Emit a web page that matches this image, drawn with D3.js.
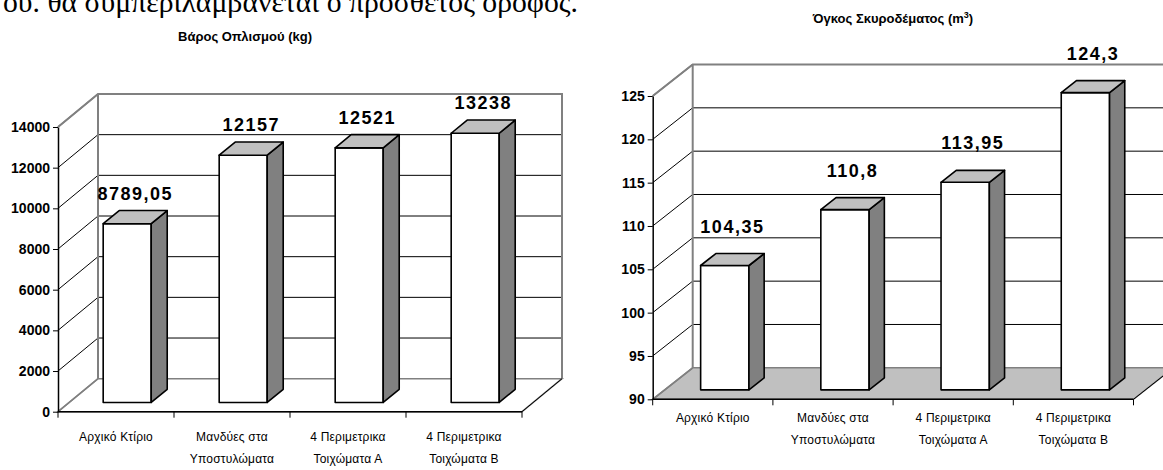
<!DOCTYPE html>
<html>
<head>
<meta charset="utf-8">
<script src="https://cdn.jsdelivr.net/npm/d3@7"></script>
<style>
  html, body { margin: 0; padding: 0; background: #fff; }
  svg { display: block; }
</style>
</head>
<body>
<svg id="page" width="1163" height="470"></svg>
<script>
// Category names (two-line labels under each bar)
const categories = [
  ["Αρχικό Κτίριο"],
  ["Μανδύες στα", "Υποστυλώματα"],
  ["4 Περιμετρικα", "Τοιχώματα Α"],
  ["4 Περιμετρικα", "Τοιχώματα Β"]
];

// Reinforcement weight (kg)
const weightValues = [8789.05, 12157, 12521, 13238];
const weightTicks = [0, 2000, 4000, 6000, 8000, 10000, 12000, 14000];

// Concrete volume (m3)
const concreteValues = [104.35, 110.8, 113.95, 124.3];
const concreteTicks = [90, 95, 100, 105, 110, 115, 120, 125];

// Decimal comma, as written in the report
const fmtValue = v => String(v).replace(".", ",");

const svg = d3.select("#page");

// Running text from the page above the figures
svg.append("text")
  .attr("x", 3).attr("y", 12)
  .attr("textLength", 575).attr("lengthAdjust", "spacingAndGlyphs")
  .style("font-family", "'Liberation Serif', 'Times New Roman', serif")
  .style("font-size", "30px")
  .text("ού. θα συμπεριλαμβάνεται ο πρόσθετος όροφος.");

function drawChart(opt) {
  const g = svg.append("g");
  const DX = opt.depth[0], DY = opt.depth[1];

  const x = d3.scaleBand()
    .domain(d3.range(opt.values.length))
    .range([opt.x0, opt.x1])
    .paddingInner(opt.pad).paddingOuter(opt.pad / 2);
  const step = x.step();

  const y = d3.scaleLinear().domain(d3.extent(opt.ticks)).range([opt.yBottom, opt.yTop]);
  const [vMin, vMax] = y.domain();

  // project a point on the front plane back by a depth fraction
  const P = (px, v, f) => [px + f * DX, y(v) - f * DY];
  const poly = pts => "M" + pts.map(p => p.join(",")).join("L") + "Z";

  // floor
  g.append("path")
    .attr("d", poly([P(opt.x0, vMin, 0), P(opt.x1, vMin, 0), P(opt.x1, vMin, 1), P(opt.x0, vMin, 1)]))
    .attr("fill", opt.floorFill).attr("stroke", "#808080").attr("stroke-width", 1.5);

  // back-wall gridlines
  g.selectAll(".grid").data(opt.ticks.slice(1, -1)).join("line")
    .attr("x1", opt.x0 + DX).attr("x2", opt.x1 + DX)
    .attr("y1", d => y(d) - DY).attr("y2", d => y(d) - DY)
    .attr("stroke", "#000").attr("stroke-width", 1);

  // side-wall diagonals from each front tick
  g.selectAll(".diag").data(opt.ticks.slice(1, -1)).join("line")
    .attr("x1", opt.x0).attr("y1", d => y(d))
    .attr("x2", opt.x0 + DX).attr("y2", d => y(d) - DY)
    .attr("stroke", "#000").attr("stroke-width", 1);

  // wall frame (grey)
  g.append("path")
    .attr("d", "M" + [P(opt.x0, vMax, 0), P(opt.x0, vMax, 1), P(opt.x1, vMax, 1), P(opt.x1, vMin, 1)].map(p => p.join(",")).join("L"))
    .attr("fill", "none").attr("stroke", "#808080").attr("stroke-width", 2);
  g.append("line")
    .attr("x1", opt.x0 + DX).attr("x2", opt.x0 + DX)
    .attr("y1", y(vMax) - DY).attr("y2", y(vMin) - DY)
    .attr("stroke", "#808080").attr("stroke-width", 2);
  g.append("line")
    .attr("x1", opt.x0).attr("y1", y(vMin))
    .attr("x2", opt.x0 + DX).attr("y2", y(vMin) - DY)
    .attr("stroke", "#808080").attr("stroke-width", 1.5);

  // bars as boxes: front, side and top faces
  const f0 = opt.barFront, f1 = opt.barBack;
  const bars = g.selectAll(".bar").data(opt.values).join("g");
  bars.append("path") // front
    .attr("d", (d, i) => poly([P(x(i), vMin, f0), P(x(i) + x.bandwidth(), vMin, f0), P(x(i) + x.bandwidth(), d, f0), P(x(i), d, f0)]))
    .attr("fill", "#fff").attr("stroke", "#000").attr("stroke-width", 1.6).attr("stroke-linejoin", "round");
  bars.append("path") // side
    .attr("d", (d, i) => { const xr = x(i) + x.bandwidth(); return poly([P(xr, vMin, f0), P(xr, vMin, f1), P(xr, d, f1), P(xr, d, f0)]); })
    .attr("fill", "#808080").attr("stroke", "#000").attr("stroke-width", 1.6).attr("stroke-linejoin", "round");
  bars.append("path") // top
    .attr("d", (d, i) => poly([P(x(i), d, f0), P(x(i) + x.bandwidth(), d, f0), P(x(i) + x.bandwidth(), d, f1), P(x(i), d, f1)]))
    .attr("fill", "#c0c0c0").attr("stroke", "#000").attr("stroke-width", 1.6).attr("stroke-linejoin", "round");

  // value labels above the bars
  g.selectAll(".val").data(opt.values).join("text")
    .attr("x", (d, i) => x(i) + x.bandwidth() / 2 + (f0 + f1) / 2 * DX)
    .attr("y", d => y(d) - f1 * DY - opt.labelGap)
    .attr("text-anchor", "middle")
    .style("font-family", "'Liberation Sans', Arial, sans-serif")
    .style("font-weight", "bold").style("font-size", "18px").style("letter-spacing", "1.5px")
    .text(d => fmtValue(d));

  // front value axis
  const yAxis = g.append("g").attr("transform", `translate(${opt.x0},0)`)
    .call(d3.axisLeft(y).tickValues(opt.ticks).tickSize(5).tickPadding(3).tickSizeOuter(0).tickFormat(d3.format("d")));
  yAxis.select(".domain").attr("stroke", "#000").attr("stroke-width", 1.5);
  yAxis.selectAll(".tick line").attr("stroke", "#000");
  yAxis.selectAll(".tick text")
    .style("font-family", "'Liberation Sans', Arial, sans-serif")
    .style("font-weight", "bold").style("font-size", "14px").attr("fill", "#000");

  // top diagonal of the value axis
  g.append("line")
    .attr("x1", opt.x0).attr("y1", y(vMax))
    .attr("x2", opt.x0 + DX).attr("y2", y(vMax) - DY)
    .attr("stroke", "#808080").attr("stroke-width", 1.5);

  // category axis along the front edge of the floor
  g.append("line")
    .attr("x1", opt.x0).attr("x2", opt.x1).attr("y1", y(vMin)).attr("y2", y(vMin))
    .attr("stroke", "#000").attr("stroke-width", 1.5);
  g.append("line")
    .attr("x1", opt.x1).attr("y1", y(vMin))
    .attr("x2", opt.x1 + DX).attr("y2", y(vMin) - DY)
    .attr("stroke", "#000").attr("stroke-width", 1);
  g.selectAll(".ctick").data(d3.range(opt.values.length + 1)).join("line")
    .attr("x1", i => opt.x0 + i * step).attr("x2", i => opt.x0 + i * step)
    .attr("y1", y(vMin)).attr("y2", y(vMin) + 6)
    .attr("stroke", "#000").attr("stroke-width", 1);

  const cl = g.selectAll(".cat").data(categories).join("text")
    .attr("text-anchor", "middle")
    .style("font-family", "'Liberation Sans', Arial, sans-serif")
    .style("font-size", "12px").style("letter-spacing", "0.2px").attr("fill", "#000");
  cl.selectAll("tspan").data((d, i) => d.map(s => ({ s, i }))).join("tspan")
    .attr("x", d => opt.x0 + (d.i + 0.5) * step)
    .attr("y", (d, j) => opt.catY + j * opt.catLine)
    .text(d => d.s);

  // title
  const t = g.append("text")
    .attr("x", opt.titleX).attr("y", opt.titleY)
    .attr("text-anchor", "middle")
    .style("font-family", "'Liberation Sans', Arial, sans-serif")
    .style("font-weight", "bold").style("font-size", "13px");
  opt.title(t);
}

drawChart({
  values: weightValues, ticks: weightTicks,
  x0: 58, x1: 522, yBottom: 411.7, yTop: 127, depth: [40, 33],
  pad: 0.586, barFront: 0.28, barBack: 0.68, labelGap: 11,
  floorFill: "#fff", catY: 441, catLine: 22,
  titleX: 245, titleY: 41,
  title: t => t.text("Βάρος Οπλισμού (kg)")
});

drawChart({
  values: concreteValues, ticks: concreteTicks,
  x0: 652.7, x1: 1133.5, yBottom: 399.3, yTop: 96, depth: [40, 31.5],
  pad: 0.598, barFront: 0.3, barBack: 0.68, labelGap: 21,
  floorFill: "#c0c0c0", catY: 422, catLine: 22,
  titleX: 893, titleY: 22.5,
  title: t => {
    t.append("tspan").text("Όγκος Σκυροδέματος (m");
    t.append("tspan").attr("dy", -5).style("font-size", "9px").text("3");
    t.append("tspan").attr("dy", 5).text(")");
  }
});
</script>
</body>
</html>
